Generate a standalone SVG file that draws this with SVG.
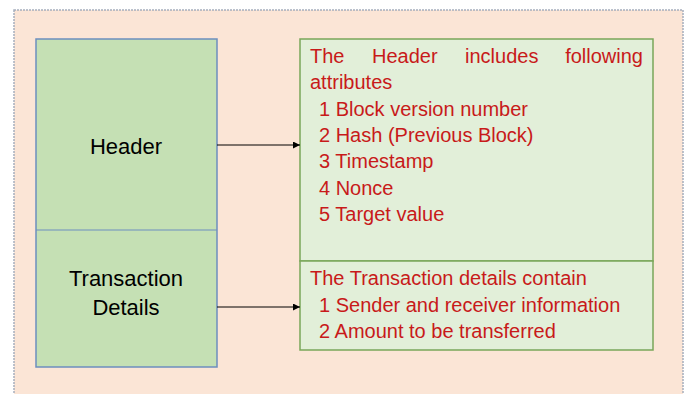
<svg xmlns="http://www.w3.org/2000/svg" width="687" height="394" viewBox="0 0 687 394">
  <style>
    .frame { fill: #fbe5d6; stroke: #a7afbd; stroke-width: 1.5; stroke-dasharray: 2 1; }
    .block { fill: #c5e0b4; stroke: #6c8ebf; stroke-width: 1.5; }
    .divider { stroke: #6c8ebf; stroke-width: 1; }
    .detail { fill: #e2efd9; stroke: #79a65a; stroke-width: 1.5; }
    .label { font-family: "Liberation Sans", Arial, sans-serif; font-size: 22px; fill: #000; text-anchor: middle; }
    .note { font-family: "Liberation Sans", Arial, sans-serif; font-size: 20px; fill: #c81a1a; }
    .conn { stroke: #000; stroke-width: 1; fill: none; marker-end: url(#arrow); }
  </style>
  <defs>
    <marker id="arrow" viewBox="0 0 10 10" refX="10" refY="5" markerWidth="7" markerHeight="7" markerUnits="userSpaceOnUse" orient="auto">
      <path d="M0,0 L10,5 L0,10 z" fill="#000"/>
    </marker>
  </defs>

  <!-- outer frame -->
  <rect class="frame" x="14" y="10" width="669" height="400"/>

  <!-- block structure on the left -->
  <g id="block">
    <rect class="block" x="36" y="39" width="181" height="328"/>
    <line class="divider" x1="36" y1="230" x2="217" y2="230"/>
  </g>
  <g id="header">
    <text class="label" x="126" y="154">Header</text>
  </g>
  <g id="transaction-details">
    <text class="label" x="126" y="286">Transaction</text>
    <text class="label" x="126" y="315">Details</text>
  </g>

  <!-- header attributes -->
  <g id="header-attributes">
    <rect class="detail" x="300" y="39" width="353" height="222"/>
    <text class="note" x="310" y="63">The</text>
    <text class="note" x="372" y="63">Header</text>
    <text class="note" x="465" y="63">includes</text>
    <text class="note" x="643" y="63" text-anchor="end">following</text>
    <text class="note" x="310" y="89">attributes</text>
    <text class="note" x="319" y="116">1 Block version number</text>
    <text class="note" x="319" y="142">2 Hash (Previous Block)</text>
    <text class="note" x="319" y="168">3 Timestamp</text>
    <text class="note" x="319" y="195">4 Nonce</text>
    <text class="note" x="319" y="221">5 Target value</text>
  </g>

  <!-- transaction contents -->
  <g id="transaction-contents">
    <rect class="detail" x="300" y="261" width="353" height="89"/>
    <text class="note" x="310" y="285">The Transaction details contain</text>
    <text class="note" x="319" y="312">1 Sender and receiver information</text>
    <text class="note" x="319" y="338">2 Amount to be transferred</text>
  </g>

  <!-- connectors -->
  <g id="connectors">
    <line class="conn" x1="217" y1="145" x2="300" y2="145"/>
    <line class="conn" x1="217" y1="307" x2="300" y2="307"/>
  </g>
</svg>
